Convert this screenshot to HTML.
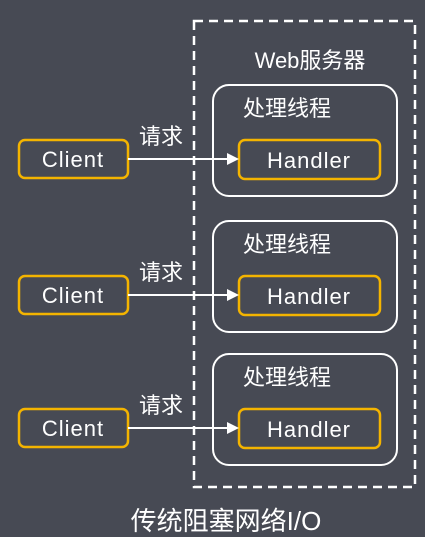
<!DOCTYPE html>
<html><head><meta charset="utf-8"><style>
html,body{margin:0;padding:0;background:#474a54;}
svg{display:block}
text{font-family:"Liberation Sans","Noto Sans CJK SC",sans-serif;fill:#fff;}
</style></head><body>
<svg width="425" height="537" viewBox="0 0 425 537">
<rect width="425" height="537" fill="#474a54"/>
<rect x="194" y="21" width="221" height="466" fill="none" stroke="#fff" stroke-width="2.5" stroke-dasharray="9,6"/>
<text x="310" y="68" font-size="22" text-anchor="middle">Web服务器</text>
<g id="row">
<rect x="213" y="85" width="184" height="111" rx="16" fill="none" stroke="#fff" stroke-width="2"/>
<text x="243" y="116" font-size="22">处理线程</text>
<rect x="239" y="140" width="141" height="39" rx="6" fill="none" stroke="#f4b400" stroke-width="2.5"/>
<text x="309" y="168" font-size="22" text-anchor="middle" letter-spacing="1">Handler</text>
<rect x="19" y="140" width="109" height="38" rx="6" fill="none" stroke="#f4b400" stroke-width="2.5"/>
<text x="73" y="167" font-size="22" text-anchor="middle" letter-spacing="1">Client</text>
<line x1="128" y1="159" x2="228" y2="159" stroke="#fff" stroke-width="2"/>
<polygon points="239,159 227,153 227,165" fill="#fff"/>
<text x="139" y="144" font-size="22">请求</text>
</g>
<use href="#row" y="136"/>
<use href="#row" y="269"/>
<text x="226" y="530" font-size="26" text-anchor="middle">传统阻塞网络I/O</text>
</svg>
</body></html>
